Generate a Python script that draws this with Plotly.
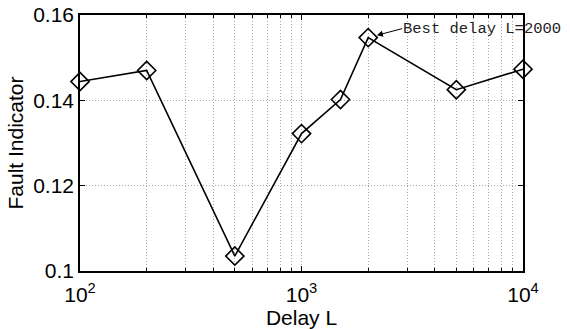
import math
import plotly.graph_objects as go

delay = [100, 200, 500, 1000, 1500, 2000, 5000, 10000]
fault = [0.1444, 0.1470, 0.1035, 0.1322, 0.1402, 0.1547, 0.1425, 0.1473]
x_ticks = [100, 1000, 10000]
x_ticktext = ["10<sup>2</sup>", "10<sup>3</sup>", "10<sup>4</sup>"]
y_ticks = [0.10, 0.12, 0.14, 0.16]
y_ticktext = ["0.1", "0.12", "0.14", "0.16"]
minor_x = [v * m for v in (100, 1000) for m in range(2, 10)]
best_x, best_y = 2000, 0.1547
note = "Best delay L=2000"

fig = go.Figure()
fig.add_trace(go.Scatter(
    x=delay, y=fault, mode="lines+markers",
    line=dict(color="black", width=1.6),
    marker=dict(symbol="diamond-open", size=14, color="black", line=dict(width=1.6, color="black")),
    showlegend=False, cliponaxis=False,
))

font = dict(family="Liberation Sans", size=21, color="black")

fig.add_annotation(
    x=math.log10(best_x), y=best_y, xref="x", yref="y",
    text=note, showarrow=True,
    ax=34, ay=-9, xanchor="left", borderpad=0,
    arrowhead=2, arrowsize=1.2, arrowwidth=1, arrowcolor="black", standoff=9,
    font=dict(family="Liberation Mono", size=15.5, color="#222"),
)

grid_dash = "1px,2px"
fig.update_layout(
    width=570, height=329,
    margin=dict(l=80, r=47, t=15, b=58, autoexpand=False),
    paper_bgcolor="white", plot_bgcolor="white",
    font=font,
    xaxis=dict(
        type="log", range=[2, 4], automargin=False,
        tickvals=x_ticks, ticktext=x_ticktext,
        ticks="inside", ticklen=5, tickcolor="black", tickwidth=1,
        ticklabelstandoff=4,
        showline=True, linecolor="black", linewidth=1.5, mirror="ticks",
        showgrid=True, gridcolor="#aaa", griddash=grid_dash, gridwidth=1,
        minor=dict(tickvals=minor_x, showgrid=True, gridcolor="#aaa", griddash=grid_dash,
                   ticks="inside", ticklen=3, tickcolor="black"),
        title=dict(text="Delay L", standoff=0, font=font),
        tickfont=font, zeroline=False,
    ),
    yaxis=dict(
        range=[0.1, 0.16], automargin=False,
        tickvals=y_ticks, ticktext=y_ticktext,
        ticks="inside", ticklen=5, tickcolor="black", tickwidth=1,
        showline=True, linecolor="black", linewidth=1.5, mirror="ticks",
        showgrid=True, gridcolor="#aaa", griddash=grid_dash, gridwidth=1,
        title=dict(text="Fault Indicator", standoff=4, font=font),
        tickfont=font, zeroline=False,
    ),
)

fig.write_html("out.html")
